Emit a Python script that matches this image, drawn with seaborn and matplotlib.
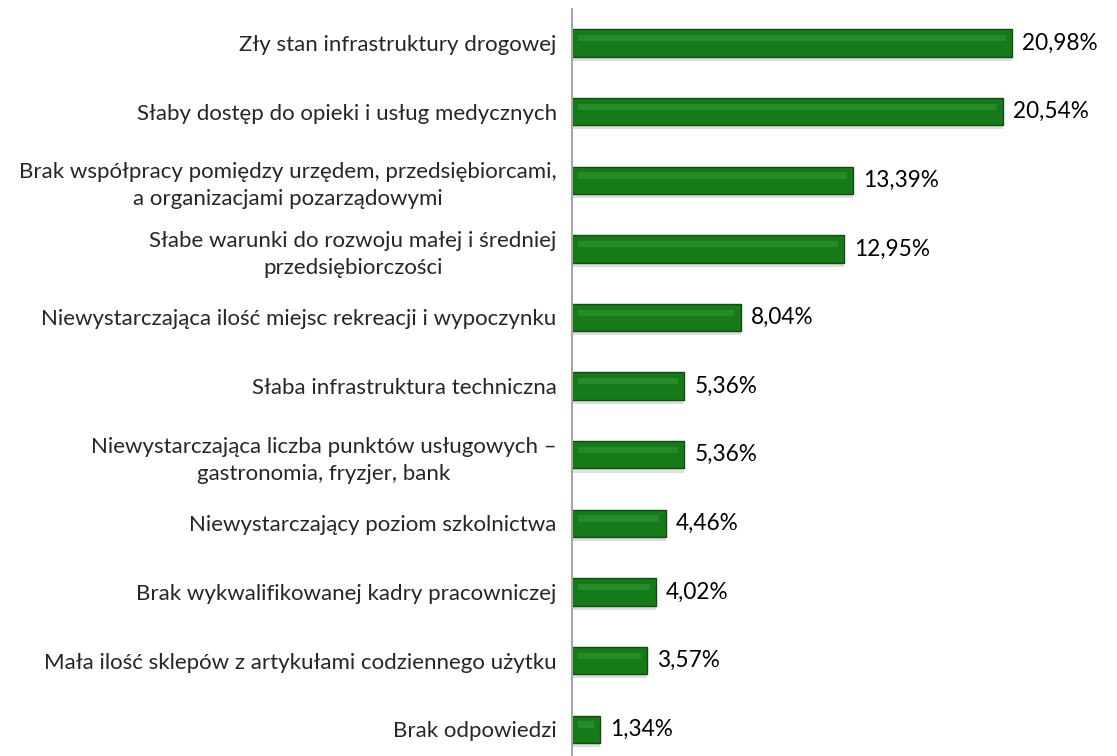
import numpy as np
import pandas as pd
import matplotlib.pyplot as plt
plt.switch_backend('Agg')
import seaborn as sns

categories = [
    "Zły stan infrastruktury drogowej",
    "Słaby dostęp do opieki i usług medycznych",
    "Brak współpracy pomiędzy urzędem, przedsiębiorcami,\na organizacjami pozarządowymi",
    "Słabe warunki do rozwoju małej i średniej\nprzedsiębiorczości",
    "Niewystarczająca ilość miejsc rekreacji i wypoczynku",
    "Słaba infrastruktura techniczna",
    "Niewystarczająca liczba punktów usługowych –\ngastronomia, fryzjer, bank",
    "Niewystarczający poziom szkolnictwa",
    "Brak wykwalifikowanej kadry pracowniczej",
    "Mała ilość sklepów z artykułami codziennego użytku",
    "Brak odpowiedzi",
]
values = [20.98, 20.54, 13.39, 12.95, 8.04, 5.36, 5.36, 4.46, 4.02, 3.57, 1.34]
value_labels = ["20,98%", "20,54%", "13,39%", "12,95%", "8,04%", "5,36%",
                "5,36%", "4,46%", "4,02%", "3,57%", "1,34%"]

df = pd.DataFrame({"Kategoria": categories, "Procent": values})

sns.set_style("white")
plt.rcParams['font.family'] = ['Lato', 'DejaVu Sans']

fig = plt.figure(figsize=(11.17, 7.56), dpi=100)
ax = fig.add_axes([0.512, 0.0, 0.488, 0.9885])

# soft shadow under each bar
sns.barplot(ax=ax, data=df, x="Procent", y="Kategoria", orient="h",
            color="#c8c8c8", width=0.40, saturation=1, linewidth=0)
for p in ax.patches:
    p.set_y(p.get_y() + 0.06)
    p.set_alpha(0.6)
n_shadow = len(ax.patches)

sns.barplot(ax=ax, data=df, x="Procent", y="Kategoria", orient="h",
            color="#167a18", width=0.40, saturation=1,
            edgecolor="#0c4f0c", linewidth=1.0)
# lighter band for the bevelled look
sns.barplot(ax=ax, data=df, x="Procent", y="Kategoria", orient="h",
            color="#3aa33c", width=0.09, saturation=1, linewidth=0)
for p in ax.patches[2 * n_shadow:]:
    p.set_y(p.get_y() - 0.07)
    p.set_x(0.3)
    p.set_width(max(p.get_width() - 0.6, 0.1))
    p.set_alpha(0.45)

for i, (v, lab) in enumerate(zip(values, value_labels)):
    ax.text(v + 0.47, i, lab, va="center", ha="left", fontsize=16.3, color="black")

ax.set_xlim(0, 25.96)
ax.set_ylim(10.39, -0.5)
ax.set_xlabel("")
ax.set_ylabel("")
ax.set_xticks([])
ax.tick_params(axis='y', length=0, labelsize=16, pad=11)
for lab in ax.get_yticklabels():
    lab.set_multialignment("center")
    lab.set_linespacing(1.45)
for s in ["top", "right", "bottom"]:
    ax.spines[s].set_visible(False)
ax.spines["left"].set_color("#a6a6a6")
ax.spines["left"].set_linewidth(1.5)

plt.savefig("out.png", dpi=100)
